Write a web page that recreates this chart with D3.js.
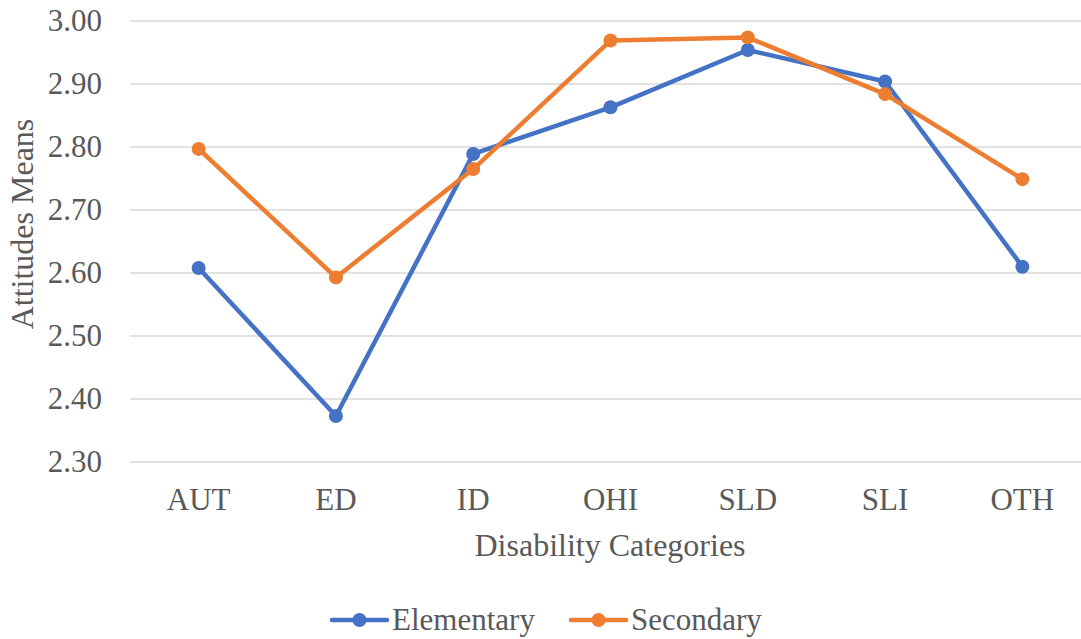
<!DOCTYPE html>
<html>
<head>
<meta charset="utf-8">
<script src="https://cdn.jsdelivr.net/npm/d3@7"></script>
<style>
  body { margin: 0; background: #fff; }
</style>
</head>
<body>
<script>
const categories = ['AUT', 'ED', 'ID', 'OHI', 'SLD', 'SLI', 'OTH']
const elementary = [2.608, 2.373, 2.789, 2.863, 2.954, 2.904, 2.610]
const secondary = [2.797, 2.593, 2.765, 2.969, 2.974, 2.884, 2.749]
const yTicks = [2.3, 2.4, 2.5, 2.6, 2.7, 2.8, 2.9, 3.0]

const series = [
  { name: 'Elementary', values: elementary, colour: '#4472C4' },
  { name: 'Secondary', values: secondary, colour: '#ED7D31' }
]

const width = 1081
const height = 639
const font = "'Liberation Serif', 'Times New Roman', serif"

const svg = d3.select(document.body).append('svg')
  .attr('width', width)
  .attr('height', height)
  .style('font-family', font)

const x = d3.scaleBand().domain(categories).range([130, 1091])
const y = d3.scaleLinear().domain([2.3, 3.0]).range([462, 21])
const cx = c => x(c) + x.bandwidth() / 2

// gridlines
svg.append('g').selectAll('line').data(yTicks).join('line')
  .attr('x1', 130).attr('x2', 1091)
  .attr('y1', d => y(d)).attr('y2', d => y(d))
  .attr('stroke', '#d9d9d9').attr('stroke-width', 1.5)

const label = sel => sel.style('font-family', font).attr('fill', '#595959')

// y tick labels
svg.append('g').selectAll('text').data(yTicks).join('text')
  .call(label)
  .attr('x', 102).attr('y', d => y(d) + 10)
  .attr('text-anchor', 'end')
  .attr('font-size', 31)
  .text(d => d.toFixed(2))

// x tick labels
svg.append('g').selectAll('text').data(categories).join('text')
  .call(label)
  .attr('x', d => cx(d)).attr('y', 510)
  .attr('text-anchor', 'middle')
  .attr('font-size', 31)
  .text(d => d)

// axis titles
svg.append('text')
  .call(label)
  .attr('x', 610).attr('y', 556)
  .attr('text-anchor', 'middle')
  .attr('font-size', 32)
  .text('Disability Categories')

svg.append('text')
  .call(label)
  .attr('transform', 'translate(33,224) rotate(-90)')
  .attr('text-anchor', 'middle')
  .attr('font-size', 32)
  .text('Attitudes Means')

const line = d3.line().x((d, i) => cx(categories[i])).y(d => y(d))

series.forEach(s => {
  const g = svg.append('g')
  g.append('path')
    .attr('d', line(s.values))
    .attr('fill', 'none')
    .attr('stroke', s.colour)
    .attr('stroke-width', 4.5)
    .attr('stroke-linejoin', 'round')
  g.selectAll('circle').data(s.values).join('circle')
    .attr('cx', (d, i) => cx(categories[i]))
    .attr('cy', d => y(d))
    .attr('r', 7)
    .attr('fill', s.colour)
})

// legend
const legendX = [332, 571]
series.forEach((s, i) => {
  const g = svg.append('g').attr('transform', `translate(${legendX[i]},620)`)
  g.append('line')
    .attr('x1', 0).attr('x2', 55).attr('y1', 0).attr('y2', 0)
    .attr('stroke', s.colour).attr('stroke-width', 4.5)
    .attr('stroke-linecap', 'round')
  g.append('circle').attr('cx', 27.5).attr('cy', 0).attr('r', 7).attr('fill', s.colour)
  g.append('text')
    .call(label)
    .attr('x', 60).attr('y', 10)
    .attr('font-size', 31)
    .text(s.name)
})
</script>
</body>
</html>
